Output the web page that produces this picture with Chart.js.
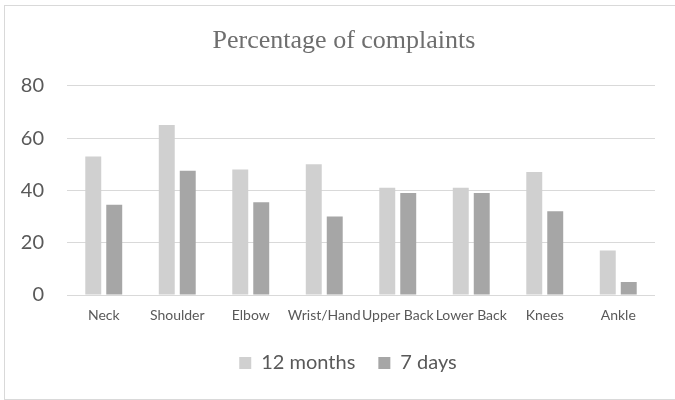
<!DOCTYPE html>
<html>
<head>
<meta charset="utf-8">
<script src="https://cdn.jsdelivr.net/npm/chart.js@4/dist/chart.umd.min.js"></script>
<style>
  html, body { margin: 0; padding: 0; background: #ffffff; overflow: hidden; }
  #frame {
    position: absolute; left: 4px; top: 5px;
    width: 680px; height: 395px;
    box-sizing: border-box; border: 1px solid #d9d9d9;
    background: #ffffff;
  }
  #chart { display: block; }
</style>
</head>
<body>
<div id="frame"><canvas id="chart" width="668" height="393"></canvas></div>
<script>
// Body regions
const categories = ['Neck', 'Shoulder', 'Elbow', 'Wrist/Hand', 'Upper Back', 'Lower Back', 'Knees', 'Ankle'];
// Share of respondents reporting complaints (%)
const twelveMonths = [53, 65, 48, 50, 41, 41, 47, 17];
const sevenDays = [34.5, 47.5, 35.5, 30, 39, 39, 32, 5];
const yTicks = [0, 20, 40, 60, 80];

const textGrey = '#595959';

// Nudge the title and legend blocks so they sit centred over the plot area
const blockOffset = {
  id: 'blockOffset',
  afterLayout(chart) {
    const shift = (box, dx) => {
      if (!box) return;
      box.left += dx;
      box.right += dx;
    };
    shift(chart.titleBlock, 14);
    shift(chart.legend, 18);
  }
};

new Chart(document.getElementById('chart'), {
  type: 'bar',
  data: {
    labels: categories,
    datasets: [
      { label: '12 months', data: twelveMonths, backgroundColor: '#d0d0d0',
        categoryPercentage: 0.571, barPercentage: 0.76 },
      { label: '7 days', data: sevenDays, backgroundColor: '#a6a6a6',
        categoryPercentage: 0.571, barPercentage: 0.76 }
    ]
  },
  plugins: [blockOffset],
  options: {
    responsive: false,
    animation: false,
    layout: { padding: { left: 0, right: 18, top: 0, bottom: 16 } },
    plugins: {
      title: {
        display: true,
        text: 'Percentage of complaints',
        color: '#6e6e6e',
        font: { family: 'Liberation Serif', size: 26, weight: 'normal', lineHeight: 1.2 },
        padding: { top: 20, bottom: 28.6 }
      },
      legend: {
        position: 'bottom',
        labels: {
          color: textGrey,
          font: { family: 'Lato', size: 20 },
          boxWidth: 12,
          boxHeight: 12,
          padding: 23
        }
      },
      tooltip: { enabled: false }
    },
    scales: {
      x: {
        grid: { display: false },
        border: { display: false },
        ticks: {
          color: textGrey,
          font: { family: 'Lato', size: 14 },
          autoSkip: false,
          maxRotation: 0,
          minRotation: 0,
          padding: 4
        },
        afterFit: (scale) => { scale.height = 35; }
      },
      y: {
        min: 0,
        max: 80,
        afterBuildTicks: (scale) => { scale.ticks = yTicks.map(v => ({ value: v })); },
        grid: { color: '#d9d9d9', lineWidth: 1, drawTicks: false },
        border: { display: false },
        ticks: {
          color: textGrey,
          font: { family: 'Lato', size: 20 },
          padding: 23
        },
        afterFit: (scale) => { scale.width = 62; }
      }
    }
  }
});
</script>
</body>
</html>
